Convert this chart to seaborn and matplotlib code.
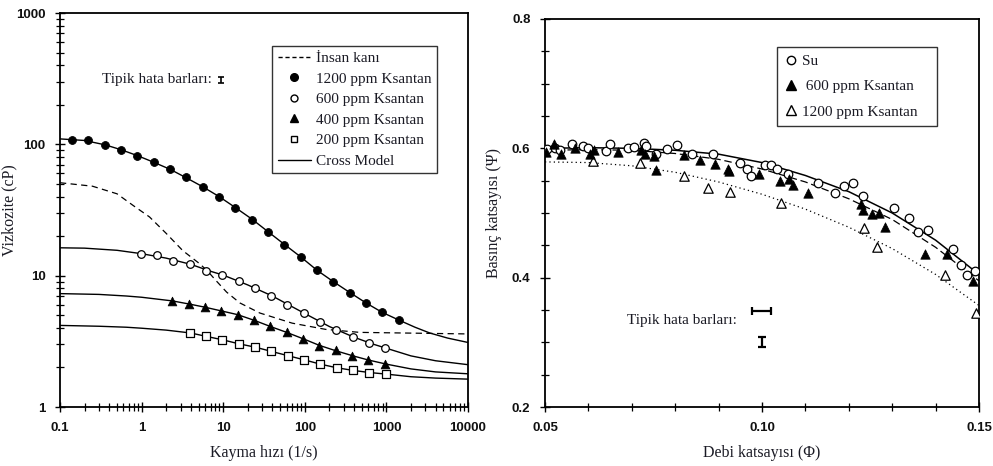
import matplotlib
matplotlib.use("Agg")
import matplotlib.pyplot as plt
from matplotlib.lines import Line2D
from matplotlib.ticker import (LogLocator, FixedLocator, NullFormatter,
                               MultipleLocator, FormatStrFormatter, FixedFormatter)
import seaborn as sns

# ---------------- Left panel data (viscosity vs shear rate) ----------------
x1200 = [0.14, 0.22, 0.36, 0.56, 0.89, 1.41, 2.24, 3.55, 5.62, 8.91, 14.1, 22.4, 35.5,
         56.2, 89.1, 141, 224, 355, 562, 891, 1413]
y1200 = [108, 107, 98, 90, 81.5, 73, 65, 56, 47, 40, 33, 26.7, 21.6, 17.2, 13.9, 11.0,
         8.95, 7.4, 6.2, 5.26, 4.6]

x600 = [0.97, 1.54, 2.44, 3.87, 6.13, 9.72, 15.4, 24.4, 38.7, 61.3, 97.2, 154, 244, 387, 613, 972]
y600 = [14.7, 14.4, 12.9, 12.3, 10.9, 10.1, 9.16, 8.0, 7.05, 6.0, 5.2, 4.47, 3.86, 3.43, 3.09, 2.81]

x400 = [2.38, 3.78, 5.99, 9.49, 15.0, 23.8, 37.8, 59.9, 94.9, 150, 238, 378, 599, 949]
y400 = [6.4, 6.1, 5.8, 5.4, 5.05, 4.57, 4.11, 3.70, 3.30, 2.93, 2.70, 2.46, 2.29, 2.14]

x200 = [3.9, 6.2, 9.8, 15.5, 24.6, 39, 62, 98, 155, 246, 390, 620, 980]
y200 = [3.68, 3.45, 3.24, 3.02, 2.85, 2.65, 2.46, 2.29, 2.11, 1.99, 1.90, 1.83, 1.79]

# Cross model curves
cx1200 = [0.1, 0.2, 0.36, 0.56, 0.89, 1.41, 2.24, 3.55, 5.62, 8.91, 14.1, 22.4, 35.5, 56.2,
          89.1, 141, 224, 355, 562, 891, 1413, 2240, 3400, 5600, 10000]
cy1200 = [110, 107, 99, 91, 82, 73, 64.5, 55.5, 47.5, 40, 33, 27, 21.6, 17.3, 13.9, 11.0,
          9.0, 7.45, 6.2, 5.25, 4.6, 4.05, 3.66, 3.35, 3.1]
cx600 = [0.1, 0.2, 0.5, 1, 2, 4, 7, 10, 20, 40, 70, 100, 200, 400, 700, 1000, 2000, 4000, 10000]
cy600 = [16.3, 16.2, 15.6, 14.7, 13.6, 12.2, 10.8, 10.1, 8.5, 7.0, 5.8, 5.15, 4.1, 3.4, 3.0,
         2.8, 2.45, 2.25, 2.1]
cx400 = [0.1, 0.3, 0.65, 1, 2.4, 4, 6, 10, 15, 24, 40, 60, 100, 150, 240, 400, 600, 1000,
         2000, 4000, 10000]
cy400 = [7.3, 7.2, 7.0, 6.85, 6.42, 6.05, 5.75, 5.35, 5.05, 4.57, 4.05, 3.7, 3.27, 2.95,
         2.68, 2.44, 2.28, 2.12, 1.95, 1.85, 1.79]
cx200 = [0.1, 0.3, 0.65, 1, 2, 4, 6.2, 10, 15.5, 25, 39, 62, 100, 155, 246, 390, 620, 1000,
         2000, 4000, 10000]
cy200 = [4.18, 4.12, 4.05, 3.98, 3.85, 3.66, 3.45, 3.24, 3.03, 2.85, 2.65, 2.46, 2.28, 2.12,
         1.99, 1.90, 1.83, 1.78, 1.70, 1.66, 1.63]

# Human blood (dashed)
bx = [0.1, 0.25, 0.5, 0.8, 1.25, 2.0, 3.2, 5, 6.3, 8, 11, 16, 28, 70, 180, 470, 10000]
by = [51, 48, 42, 34, 28, 21, 15.5, 12.5, 11, 9.3, 7.5, 6.2, 5.2, 4.35, 3.9, 3.7, 3.6]

# ---------------- Right panel data (pressure vs flow coefficient) ----------------
su_x = [0.0505, 0.0523, 0.0535, 0.0563, 0.0587, 0.0600, 0.0640, 0.0650, 0.0692, 0.0706,
        0.0727, 0.0733, 0.0756, 0.0780, 0.0805, 0.0838, 0.0888, 0.0949, 0.0966, 0.0975,
        0.1008, 0.1021, 0.1035, 0.1061, 0.1128, 0.1168, 0.1189, 0.1209, 0.1232, 0.1304,
        0.1339, 0.1359, 0.1382, 0.1439, 0.1458, 0.1473, 0.1491]
su_y = [0.599, 0.600, 0.598, 0.607, 0.604, 0.601, 0.596, 0.607, 0.601, 0.602,
        0.608, 0.604, 0.592, 0.599, 0.605, 0.591, 0.592, 0.578, 0.568, 0.557,
        0.575, 0.574, 0.568, 0.561, 0.547, 0.531, 0.542, 0.546, 0.526, 0.508,
        0.493, 0.470, 0.473, 0.444, 0.420, 0.404, 0.410]

k600_x = [0.0502, 0.0521, 0.0538, 0.0569, 0.0604, 0.0612, 0.0669, 0.0721, 0.0730, 0.0750,
          0.0755, 0.0820, 0.0857, 0.0892, 0.0922, 0.0924, 0.0994, 0.1041, 0.1062, 0.1072,
          0.1105, 0.1228, 0.1232, 0.1253, 0.1270, 0.1283, 0.1376, 0.1427, 0.1487]
k600_y = [0.594, 0.606, 0.592, 0.600, 0.591, 0.598, 0.594, 0.597, 0.591, 0.588,
          0.566, 0.589, 0.582, 0.576, 0.568, 0.565, 0.560, 0.549, 0.553, 0.543,
          0.531, 0.514, 0.505, 0.498, 0.500, 0.478, 0.437, 0.436, 0.395]

k1200_x = [0.0611, 0.0720, 0.0820, 0.0875, 0.0926, 0.1043, 0.1235, 0.1264, 0.1422, 0.1493]
k1200_y = [0.581, 0.577, 0.557, 0.539, 0.533, 0.516, 0.477, 0.447, 0.404, 0.346]

fit_x = [0.05, 0.06, 0.07, 0.08, 0.09, 0.10, 0.11, 0.12, 0.13, 0.14, 0.15]
fit_su = [0.600, 0.601, 0.600, 0.597, 0.591, 0.578, 0.558, 0.533, 0.500, 0.458, 0.405]
fit_600 = [0.597, 0.598, 0.597, 0.592, 0.583, 0.568, 0.548, 0.522, 0.490, 0.447, 0.395]
fit_1200 = [0.579, 0.578, 0.573, 0.563, 0.548, 0.529, 0.506, 0.478, 0.445, 0.405, 0.357]

left_xticks = [0.1, 1, 10, 100, 1000, 10000]
left_xlabels = ["0.1", "1", "10", "100", "1000", "10000"]
left_yticks = [1, 10, 100, 1000]
left_ylabels = ["1", "10", "100", "1000"]
right_xticks = [0.05, 0.10, 0.15]
right_yticks = [0.2, 0.4, 0.6, 0.8]

# ---------------- Styling ----------------
sns.set_theme(style="white")
plt.rcParams["font.family"] = ["Liberation Serif", "DejaVu Serif"]
TXT = "#1a1a24"
SERIF = ["Liberation Serif", "DejaVu Serif"]
SANS = ["Liberation Sans", "DejaVu Sans"]

fig = plt.figure(figsize=(9.93, 4.66), dpi=100)
W, H = 993.0, 466.0
ax1 = fig.add_axes([60 / W, (H - 407) / H, 408 / W, 394 / H])
ax2 = fig.add_axes([545 / W, (H - 407) / H, 434 / W, 388 / H])

# ---------------- Left panel ----------------
lw = 1.0
sns.lineplot(x=bx, y=by, ax=ax1, color="black", lw=0.9, linestyle=(0, (5, 3.5)),
             sort=False, estimator=None)
for cx, cy in [(cx1200, cy1200), (cx600, cy600), (cx400, cy400), (cx200, cy200)]:
    sns.lineplot(x=cx, y=cy, ax=ax1, color="black", lw=lw, sort=False, estimator=None)

sns.scatterplot(x=x1200, y=y1200, ax=ax1, marker="o", s=32, color="black",
                edgecolor="black", linewidth=0.6, zorder=5)
sns.scatterplot(x=x600, y=y600, ax=ax1, marker="o", s=30, color="white",
                edgecolor="black", linewidth=0.9, zorder=5)
sns.scatterplot(x=x400, y=y400, ax=ax1, marker="^", s=40, color="black",
                edgecolor="black", linewidth=0.5, zorder=5)
sns.scatterplot(x=x200, y=y200, ax=ax1, marker="s", s=28, color="white",
                edgecolor="black", linewidth=0.9, zorder=5)

ax1.set_xscale("log")
ax1.set_yscale("log")
ax1.set_xlim(0.1, 10000)
ax1.set_ylim(1, 1000)
ax1.xaxis.set_major_locator(FixedLocator(left_xticks))
ax1.xaxis.set_major_formatter(FixedFormatter(left_xlabels))
ax1.yaxis.set_major_locator(FixedLocator(left_yticks))
ax1.yaxis.set_major_formatter(FixedFormatter(left_ylabels))
ax1.xaxis.set_minor_locator(LogLocator(base=10, subs=range(2, 10), numticks=20))
ax1.yaxis.set_minor_locator(LogLocator(base=10, subs=range(2, 10), numticks=20))
ax1.xaxis.set_minor_formatter(NullFormatter())
ax1.yaxis.set_minor_formatter(NullFormatter())

ax1.set_xlabel("Kayma hızı (1/s)", fontsize=11.5, family=SERIF, color=TXT, labelpad=8)
ax1.set_ylabel("Vizkozite (cP)", fontsize=11.5, family=SERIF, color=TXT)
ax1.yaxis.set_label_coords(-0.105, 0.5)

ax1.text(0.103, 0.83, "Tipik hata barları:", transform=ax1.transAxes, fontsize=11,
         family=SERIF, color=TXT, va="center", ha="left")
ax1.errorbar([9.3], [307], yerr=[[16], [17]], fmt="none", ecolor="black",
             elinewidth=1.2, capsize=2, capthick=1.2)

h_left = [
    Line2D([], [], color="black", ls=(0, (3, 2)), lw=1.0),
    Line2D([], [], color="black", marker="o", ls="none", markersize=5.5),
    Line2D([], [], color="black", marker="o", ls="none", markersize=5, markerfacecolor="white"),
    Line2D([], [], color="black", marker="^", ls="none", markersize=5.5),
    Line2D([], [], color="black", marker="s", ls="none", markersize=5, markerfacecolor="white"),
    Line2D([], [], color="black", ls="-", lw=1.0),
]
l_left = ["İnsan kanı", "1200 ppm Ksantan", "600 ppm Ksantan", "400 ppm Ksantan",
          "200 ppm Ksantan", "Cross Model"]
leg1 = ax1.legend(h_left, l_left, loc="upper left", bbox_to_anchor=(0.52, 0.916),
                  frameon=True, fancybox=False, edgecolor="black",
                  handlelength=2.2, handletextpad=0.3, labelspacing=0.45,
                  borderpad=0.35, borderaxespad=0, prop={"family": SERIF, "size": 11})
leg1.get_frame().set_linewidth(1.0)
for t in leg1.get_texts():
    t.set_color(TXT)

# ---------------- Right panel ----------------
sns.lineplot(x=fit_x, y=fit_su, ax=ax2, color="black", lw=1.1, sort=False, estimator=None)
sns.lineplot(x=fit_x, y=fit_600, ax=ax2, color="black", lw=0.9, linestyle=(0, (6, 3)),
             sort=False, estimator=None)
sns.lineplot(x=fit_x, y=fit_1200, ax=ax2, color="black", lw=0.9, linestyle=(0, (1, 2.5)),
             sort=False, estimator=None)

sns.scatterplot(x=su_x, y=su_y, ax=ax2, marker="o", s=38, color="white",
                edgecolor="black", linewidth=0.9, zorder=5)
sns.scatterplot(x=k600_x, y=k600_y, ax=ax2, marker="^", s=46, color="black",
                edgecolor="black", linewidth=0.5, zorder=6)
sns.scatterplot(x=k1200_x, y=k1200_y, ax=ax2, marker="^", s=46, color="white",
                edgecolor="black", linewidth=0.9, zorder=5)

ax2.set_xlim(0.05, 0.15)
ax2.set_ylim(0.2, 0.8)
ax2.xaxis.set_major_locator(FixedLocator(right_xticks))
ax2.yaxis.set_major_locator(FixedLocator(right_yticks))
ax2.xaxis.set_minor_locator(MultipleLocator(0.01))
ax2.yaxis.set_minor_locator(MultipleLocator(0.05))
ax2.xaxis.set_major_formatter(FormatStrFormatter("%.2f"))
ax2.yaxis.set_major_formatter(FormatStrFormatter("%.1f"))

ax2.set_xlabel("Debi katsayısı (Φ)", fontsize=11.5, family=SERIF, color=TXT, labelpad=8)
ax2.set_ylabel("Basınç katsayısı (Ψ)", fontsize=11.5, family=SERIF, color=TXT)
ax2.yaxis.set_label_coords(-0.099, 0.5)

ax2.text(0.189, 0.224, "Tipik hata barları:", transform=ax2.transAxes, fontsize=11,
         family=SERIF, color=TXT, va="center", ha="left")
ax2.errorbar([0.0998], [0.349], xerr=[0.0022], fmt="none", ecolor="black",
             elinewidth=1.6, capsize=3, capthick=1.6)
ax2.errorbar([0.1001], [0.3005], yerr=[0.0075], fmt="none", ecolor="black",
             elinewidth=1.6, capsize=3, capthick=1.6)

h_right = [
    Line2D([], [], color="black", marker="o", ls="none", markersize=6, markerfacecolor="white"),
    Line2D([], [], color="black", marker="^", ls="none", markersize=6.5),
    Line2D([], [], color="black", marker="^", ls="none", markersize=6.5, markerfacecolor="white"),
]
l_right = ["Su", " 600 ppm Ksantan", "1200 ppm Ksantan   "]
leg2 = ax2.legend(h_right, l_right, loc="upper left", bbox_to_anchor=(0.535, 0.928),
                  frameon=True, fancybox=False, edgecolor="black",
                  handlelength=0.8, handletextpad=0.3, labelspacing=0.75,
                  borderpad=0.5, borderaxespad=0, prop={"family": SERIF, "size": 11})
leg2.get_frame().set_linewidth(1.0)
for t in leg2.get_texts():
    t.set_color(TXT)

# ---------------- Common axis styling ----------------
for ax in (ax1, ax2):
    for sp in ax.spines.values():
        sp.set_color("black")
        sp.set_linewidth(1.3)
    ax.tick_params(which="both", direction="inout", bottom=True, left=True,
                   top=False, right=False, color="black")
    ax.tick_params(which="major", length=7, width=1.0, pad=7)
    ax.tick_params(which="minor", length=6, width=0.9)
    for lab in ax.get_xticklabels() + ax.get_yticklabels():
        lab.set_fontfamily(SANS)
        lab.set_fontsize(9.5)
        lab.set_fontweight("bold")
        lab.set_color("#111111")

fig.savefig("out.png", dpi=100)
